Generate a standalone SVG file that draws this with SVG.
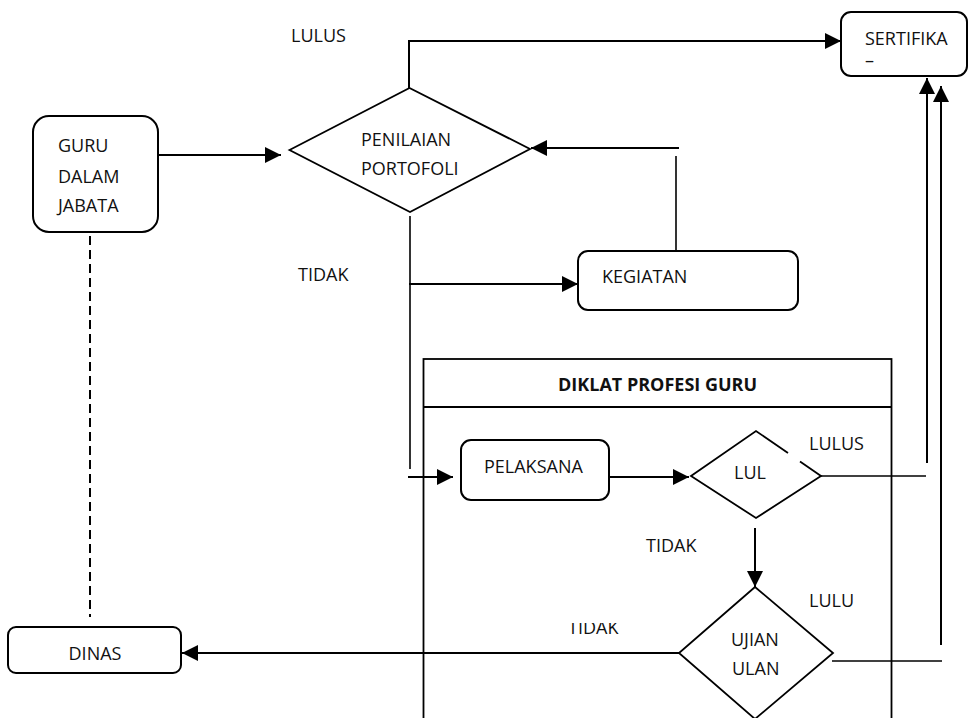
<svg xmlns="http://www.w3.org/2000/svg" width="968" height="718" viewBox="0 0 968 718">
<style>
.box{fill:#fff;stroke:#000;stroke-width:2}
.dia{fill:#fff;stroke:#000;stroke-width:1.8}
.ln{fill:none;stroke:#000;stroke-width:2}
.thin{fill:none;stroke:#000;stroke-width:1.6}
.t{font-family:"Open Sans","Noto Sans","Liberation Sans",sans-serif;font-size:18px;fill:#111}
.b{font-weight:bold;font-size:18px}
</style>
<defs>
<marker id="ah" markerUnits="userSpaceOnUse" markerWidth="16" markerHeight="16" refX="16" refY="8" orient="auto">
<path d="M0,0 L16,8 L0,16 z" fill="#000"/>
</marker>
<clipPath id="clipTidak"><rect x="540" y="623" width="120" height="20"/></clipPath>
</defs>

<g id="connectors">
<line class="ln" x1="158" y1="155" x2="281" y2="155" marker-end="url(#ah)"/>
<path class="ln" d="M409,88 V41 H841" marker-end="url(#ah)"/>
<line class="thin" x1="676" y1="156" x2="676" y2="251"/>
<line class="ln" x1="679" y1="148" x2="531" y2="148" marker-end="url(#ah)"/>
<line class="thin" x1="410" y1="216" x2="410" y2="469"/>
<line class="ln" x1="409" y1="284" x2="578" y2="284" marker-end="url(#ah)"/>
<line class="ln" x1="408" y1="477" x2="453" y2="477" marker-end="url(#ah)"/>
<line class="ln" x1="609" y1="477" x2="689" y2="477" marker-end="url(#ah)"/>
<line class="thin" x1="821" y1="476" x2="926" y2="476"/>
<line class="ln" x1="927" y1="463" x2="927" y2="78" marker-end="url(#ah)"/>
<line class="ln" x1="941" y1="645" x2="941" y2="86" marker-end="url(#ah)"/>
<line class="thin" x1="832" y1="661" x2="942" y2="661"/>
<line class="ln" x1="755" y1="528" x2="755" y2="587" marker-end="url(#ah)"/>
<line class="ln" x1="679" y1="653" x2="182" y2="653" marker-end="url(#ah)"/>
<line class="ln" x1="90" y1="236" x2="90" y2="617" stroke-dasharray="9 5"/>
</g>

<g id="diklat">
<rect x="423.5" y="359" width="468" height="400" fill="none" stroke="#000" stroke-width="1.8"/>
<line x1="423.5" y1="407" x2="891.5" y2="407" stroke="#000" stroke-width="1.8"/>
<text class="t b" x="558" y="391">DIKLAT PROFESI GURU</text>
</g>

<g id="guru">
<rect class="box" x="33" y="116" width="125" height="116" rx="16"/>
<text class="t" x="58" y="152">GURU</text>
<text class="t" x="58" y="183">DALAM</text>
<text class="t" x="58" y="212">JABATA</text>
</g>

<g id="penilaian">
<polygon class="dia" points="289.5,150 409.5,88 530,149 410,212"/>
<text class="t" x="361" y="146">PENILAIAN</text>
<text class="t" x="361" y="175">PORTOFOLI</text>
</g>

<g id="sertifika">
<rect class="box" x="841" y="12" width="126" height="64" rx="10"/>
<text class="t" x="865" y="45">SERTIFIKA</text>
<text class="t" x="865" y="67">–</text>
</g>

<g id="kegiatan">
<rect class="box" x="578" y="251" width="220" height="59" rx="10"/>
<text class="t" x="602" y="283">KEGIATAN</text>
</g>

<g id="pelaksana">
<rect class="box" x="461" y="440" width="148" height="60" rx="10"/>
<text class="t" x="484" y="473">PELAKSANA</text>
</g>

<g id="lul">
<path class="dia" d="M800,461.5 L821,476 L756,518 L691,476 L756,431 L788,453"/>
<text class="t" x="734" y="479">LUL</text>
</g>

<g id="ujian">
<polygon class="dia" points="755,587 833,653 755,719 679,653"/>
<text class="t" x="731" y="646">UJIAN</text>
<text class="t" x="732" y="675">ULAN</text>
</g>

<g id="dinas">
<rect class="box" x="8" y="627" width="173" height="46" rx="8"/>
<text class="t" x="95" y="660" text-anchor="middle">DINAS</text>
</g>

<g id="labels">
<text class="t" x="291" y="42">LULUS</text>
<text class="t" x="298" y="281">TIDAK</text>
<text class="t" x="809" y="450">LULUS</text>
<text class="t" x="646" y="552">TIDAK</text>
<text class="t" x="809" y="607">LULU</text>
<text class="t" x="568" y="634" clip-path="url(#clipTidak)">TIDAK</text>
</g>
</svg>
